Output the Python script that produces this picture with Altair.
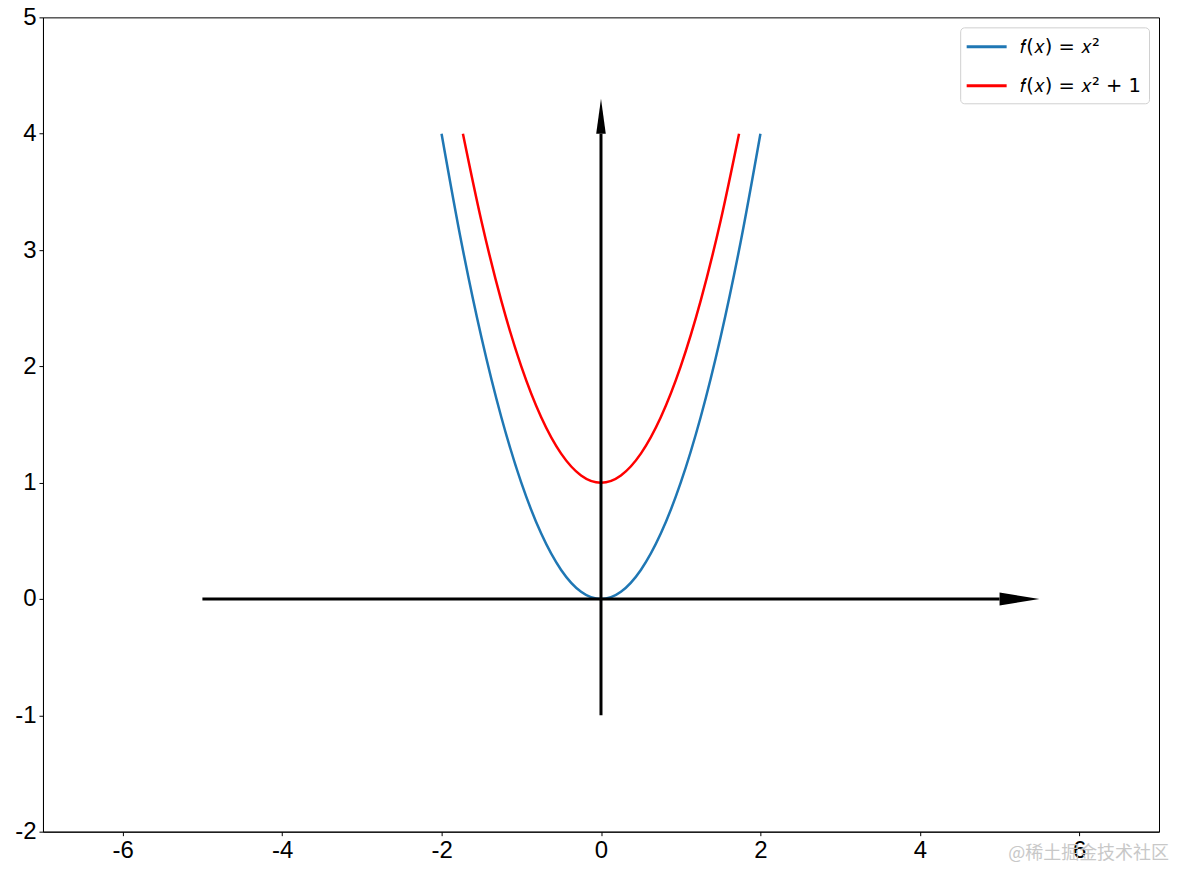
import altair as alt
import pandas as pd

# Curve samples
blue_x = [-2.0, -1.75, -1.5, -1.25, -1.0, -0.75, -0.5, -0.25, 0.0, 0.25, 0.5, 0.75, 1.0, 1.25, 1.5, 1.75, 2.0]
blue_y = [4.0, 3.0625, 2.25, 1.5625, 1.0, 0.5625, 0.25, 0.0625, 0.0, 0.0625, 0.25, 0.5625, 1.0, 1.5625, 2.25, 3.0625, 4.0]
red_x = [-1.732, -1.5, -1.25, -1.0, -0.75, -0.5, -0.25, 0.0, 0.25, 0.5, 0.75, 1.0, 1.25, 1.5, 1.732]
red_y = [4.0, 3.25, 2.5625, 2.0, 1.5625, 1.25, 1.0625, 1.0, 1.0625, 1.25, 1.5625, 2.0, 2.5625, 3.25, 4.0]

series_labels = ["𝑓(𝑥) = 𝑥²", "𝑓(𝑥) = 𝑥² + 1"]
series_colors = ["#1f77b4", "#ff0000"]

# Arrow shafts
shaft_x = [-5.0, 0.0]
shaft_x2 = [5.0, 0.0]
shaft_y = [0.0, -1.0]
shaft_y2 = [0.0, 4.0]

# Arrow heads (horizontal: along x; vertical: along y)
hhead_x = [5.0, 5.5]
hhead_ylo = [-0.055, 0.0]
hhead_yhi = [0.055, 0.0]
vhead_y = [4.0, 4.3]
vhead_xlo = [-0.06, 0.0]
vhead_xhi = [0.06, 0.0]

x_ticks = [-6, -4, -2, 0, 2, 4, 6]
y_ticks = [-2, -1, 0, 1, 2, 3, 4, 5]

curves = pd.DataFrame({
    "x": blue_x + red_x,
    "y": blue_y + red_y,
    "series": [series_labels[0]] * len(blue_x) + [series_labels[1]] * len(red_x),
})
shafts = pd.DataFrame({"x": shaft_x, "x2": shaft_x2, "y": shaft_y, "y2": shaft_y2})
hhead = pd.DataFrame({"x": hhead_x, "y": hhead_ylo, "y2": hhead_yhi})
vhead = pd.DataFrame({"y": vhead_y, "x": vhead_xlo, "x2": vhead_xhi})

xscale = alt.Scale(domain=[-7, 7], nice=False, zero=False)
yscale = alt.Scale(domain=[-2, 5], nice=False, zero=False)

xaxis = alt.Axis(values=x_ticks, title=None, grid=False, labelExpr="'' + datum.value",
                 labelFontSize=24, labelPadding=3)
yaxis = alt.Axis(values=y_ticks, title=None, grid=False, labelExpr="'' + datum.value",
                 labelFontSize=24, labelPadding=3)

lines = alt.Chart(curves).mark_line(strokeWidth=2.5, interpolate="monotone").encode(
    x=alt.X("x:Q", scale=xscale, axis=xaxis),
    y=alt.Y("y:Q", scale=yscale, axis=yaxis),
    color=alt.Color("series:N",
                    scale=alt.Scale(domain=series_labels, range=series_colors),
                    sort=series_labels,
                    legend=alt.Legend(title=None, orient="top-right", offset=10,
                                      symbolType="M-2,0L2,0", symbolSize=400,
                                      symbolStrokeWidth=3, symbolOffset=7,
                                      labelFontSize=19.5, labelFont="DejaVu Sans",
                                      labelColor="black", labelOffset=22,
                                      rowPadding=18, padding=8, fillColor="white",
                                      strokeColor="#d0d0d0", cornerRadius=4)),
)

shaft_layer = alt.Chart(shafts).mark_rule(color="black", strokeWidth=3).encode(
    x="x:Q", x2="x2:Q", y="y:Q", y2="y2:Q"
)
hhead_layer = alt.Chart(hhead).mark_area(color="black", orient="vertical").encode(
    x="x:Q", y="y:Q", y2="y2:Q"
)
vhead_layer = alt.Chart(vhead).mark_area(color="black", orient="horizontal").encode(
    y="y:Q", x="x:Q", x2="x2:Q"
)

watermark = alt.Chart(pd.DataFrame({"t": ["@稀土掘金技术社区"]})).mark_text(
    font="Noto Sans CJK SC", fontSize=18, color="#c8c8c8", align="right", baseline="middle"
).encode(text="t:N", x=alt.value(1127), y=alt.value(837))

chart = alt.layer(lines, shaft_layer, hhead_layer, vhead_layer, watermark).properties(
    width=1117, height=815,
    autosize=alt.AutoSizeParams(type="none"),
    padding={"left": 35, "top": 9, "right": 10, "bottom": 40},
    background="white",
).configure_view(
    stroke="black", strokeWidth=1
).configure_axis(
    labelFont="Liberation Sans", labelFontSize=24, labelColor="black",
    domainColor="black", tickColor="black", tickSize=4,
    domainWidth=1, tickWidth=1,
)

chart.save("out.html", embed_options={"renderer": "svg", "actions": False})
